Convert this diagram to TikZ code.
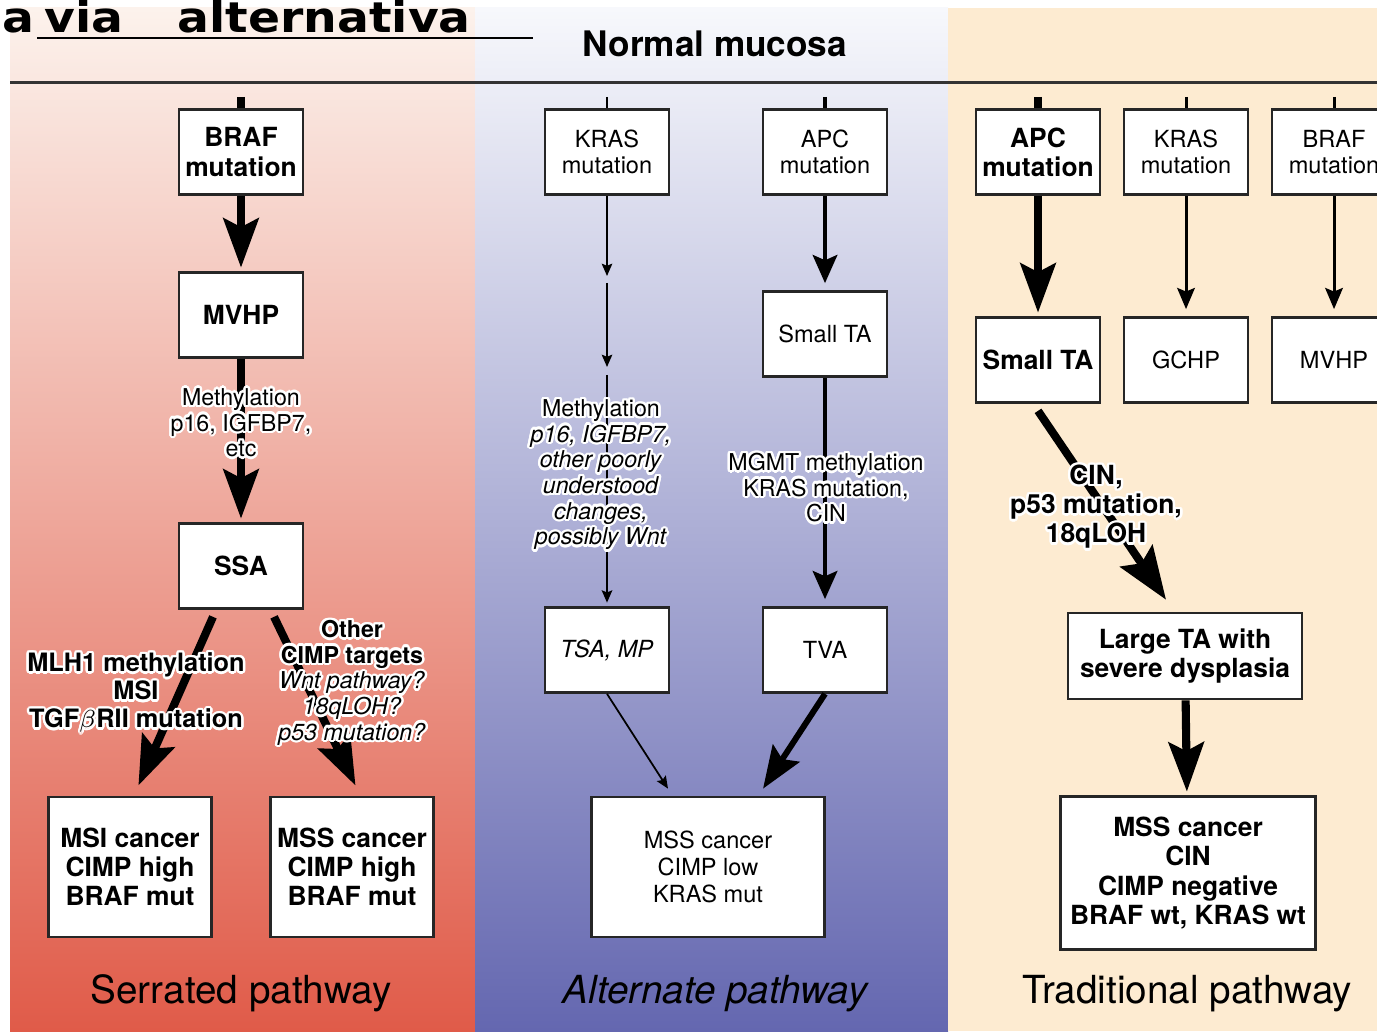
\documentclass[tikz,border=0pt]{standalone}
\usepackage{fontspec}
\usepackage{contour}
\setmainfont{TeX Gyre Heros}
\newfontfamily\titlefont{DejaVu Sans}[FakeStretch=1.12]
\usetikzlibrary{arrows.meta}
\contourlength{0.7pt}
\newcommand{\wht}[1]{\contour{white}{#1}}
\definecolor{serrtop}{HTML}{FCF2EC}
\definecolor{serrmid}{HTML}{F1B09F}
\definecolor{serrbot}{HTML}{E05B49}
\definecolor{alttop}{HTML}{F7F8FC}
\definecolor{altmid}{HTML}{B2B4DA}
\definecolor{altbot}{HTML}{6467B0}
\definecolor{tradbg}{HTML}{FDEBD1}
\begin{document}
\begin{tikzpicture}[x=0.01cm,y=-0.01cm,
  box/.style={draw=black!85,line width=0.75pt,fill=white,align=center,inner sep=1pt,
    minimum width=1.24cm,minimum height=0.85cm},
  boldtxt/.style={font=\fontsize{7.5}{8.3}\selectfont\bfseries},
  plaintxt/.style={font=\fontsize{6.7}{7.6}\selectfont},
  lbl/.style={align=center,inner sep=0pt,font=\fontsize{6.6}{7.3}\selectfont},
  boldlbl/.style={align=center,inner sep=0pt,font=\fontsize{7.2}{8}\selectfont\bfseries},
  pathname/.style={anchor=base,font=\fontsize{11}{13}\selectfont},
  headtxt/.style={inner sep=0pt,font=\titlefont\bfseries\fontsize{12}{14}\selectfont},
  bigarr/.style={line width=2.3pt,-{Stealth[length=14pt,width=10pt,inset=2.5pt]},shorten >=1pt},
  midarr/.style={line width=1.1pt,-{Stealth[length=8pt,width=7pt,inset=1.5pt]},shorten >=2pt},
  smallarr/.style={line width=0.85pt,-{Stealth[length=6pt,width=5pt,inset=1pt]},shorten >=2pt},
  thinarr/.style={line width=0.5pt,-{Stealth[length=3.5pt,width=3pt,inset=0.6pt]}}]
  \useasboundingbox (0,0) rectangle (1377,1031);
  \clip (0,0) rectangle (1377,1031);
  \shade[top color=serrtop,middle color=serrmid,bottom color=serrbot] (10,8) rectangle (475,1031);
  \shade[top color=alttop,middle color=altmid,bottom color=altbot] (475,8) rectangle (948,1031);
  \fill[tradbg] (948,8) rectangle (1377,1031);

  \node[headtxt,anchor=base west] (ta) at (2,33) {a};
  \node[headtxt,anchor=base west] (tb) at (44,33) {via};
  \node[headtxt,anchor=base west] (tc) at (177,33) {alternativa};
  \draw[line width=0.6pt] (37,38) -- (533,38);

  \node[anchor=base,font=\fontsize{10}{12}\selectfont\bfseries] (nm) at (715,57) {Normal mucosa};
  \draw[line width=0.85pt,black!80] (10,83) -- (1377,83);

  % serrated
  \node[box,boldtxt] (braf1) at (241,152) {BRAF\\mutation};
  \node[box,boldtxt] (mvhp1) at (241,315) {MVHP};
  \node[box,boldtxt] (ssa) at (241,566) {SSA};
  \node[box,boldtxt,minimum width=1.63cm,minimum height=1.40cm] (msi) at (130,867) {MSI cancer\\CIMP high\\BRAF mut};
  \node[box,boldtxt,minimum width=1.63cm,minimum height=1.40cm] (mss1) at (352,867) {MSS cancer\\CIMP high\\BRAF mut};
  \coordinate (s1) at (241,97);
  \draw[line width=2.3pt] (s1) -- (braf1.north);
  \draw[bigarr] (braf1) -- (mvhp1);
  \draw[bigarr] (mvhp1) -- (ssa);
  \draw[bigarr] ([xshift=-0.28cm,yshift=-0.07cm]ssa.south) -- ([xshift=0.07cm,yshift=0.07cm]msi.north);
  \draw[bigarr] ([xshift=0.33cm,yshift=-0.07cm]ssa.south) -- ([xshift=0.05cm,yshift=0.07cm]mss1.north);
  \node[lbl] (l1) at (241,424) {\wht{Methylation}\\\wht{p16, IGFBP7,}\\\wht{etc}};
  \node[boldlbl] (l2) at (136,694) {\wht{MLH1 methylation}\\\wht{MSI}\\\wht{TGF$\beta$RII mutation}};
  \node[lbl] (l3) at (352,684) {\wht{\textbf{Other}}\\\wht{\textbf{CIMP targets}}\\\wht{\textit{Wnt pathway?}}\\\wht{\textit{18qLOH?}}\\\wht{\textit{p53 mutation?}}};

  % alternate
  \node[box,plaintxt] (kras2) at (607,152) {KRAS\\mutation};
  \node[box,plaintxt] (apc2) at (825,152) {APC\\mutation};
  \node[box,plaintxt] (sta2) at (825,334) {Small TA};
  \node[box,plaintxt] (tsa) at (607,650) {\textit{TSA, MP}};
  \node[box,plaintxt] (tva) at (825,650) {TVA};
  \node[box,plaintxt,minimum width=2.33cm,minimum height=1.40cm] (mss2) at (708,867) {MSS cancer\\CIMP low\\KRAS mut};
  \coordinate (s2) at (607,97);
  \coordinate (s3) at (825,97);
  \coordinate (k1) at (607,276);
  \coordinate (k2) at (607,283);
  \coordinate (k3) at (607,367);
  \coordinate (k4) at (607,375);
  \draw[line width=0.5pt] (s2) -- (kras2.north);
  \draw[line width=1.1pt] (s3) -- (apc2.north);
  \draw[thinarr] (kras2.south) -- (k1);
  \draw[thinarr] (k2) -- (k3);
  \draw[thinarr,shorten >=1pt] (k4) -- (tsa.north);
  \draw[midarr] (apc2) -- (sta2);
  \draw[midarr] (sta2) -- (tva);
  \draw[thinarr] (tsa.south) -- ([xshift=-0.4cm,yshift=0.07cm]mss2.north);
  \draw[line width=1.7pt,-{Stealth[length=12pt,width=9pt,inset=2pt]}] (tva.south) -- ([xshift=0.55cm,yshift=0.07cm]mss2.north);
  \node[lbl] (l4) at (601,476) {\wht{Methylation}\\\wht{\textit{p16, IGFBP7,}}\\\wht{\textit{other poorly}}\\\wht{\textit{understood}}\\\wht{\textit{changes,}}\\\wht{\textit{possibly Wnt}}};
  \node[lbl] (l5) at (826,489) {\wht{MGMT methylation}\\\wht{KRAS mutation,}\\\wht{CIN}};

  % traditional
  \node[box,boldtxt] (apc3) at (1038,152) {APC\\mutation};
  \node[box,plaintxt] (kras3) at (1186,152) {KRAS\\mutation};
  \node[box,plaintxt] (braf3) at (1334,152) {BRAF\\mutation};
  \node[box,boldtxt] (sta3) at (1038,360) {Small TA};
  \node[box,plaintxt] (gchp) at (1186,360) {GCHP};
  \node[box,plaintxt] (mvhp3) at (1334,360) {MVHP};
  \node[box,boldtxt,minimum width=2.34cm,minimum height=0.86cm] (lta) at (1185,656) {Large TA with\\severe dysplasia};
  \node[box,boldtxt,minimum width=2.55cm,minimum height=1.53cm] (mss3) at (1188,873) {MSS cancer\\CIN\\CIMP negative\\BRAF wt, KRAS wt};
  \coordinate (s4) at (1038,97);
  \coordinate (s5) at (1186,97);
  \coordinate (s6) at (1334,97);
  \draw[line width=2.3pt] (s4) -- (apc3.north);
  \draw[line width=0.85pt] (s5) -- (kras3.north);
  \draw[line width=0.85pt] (s6) -- (braf3.north);
  \draw[bigarr] (apc3) -- (sta3);
  \draw[smallarr] (kras3) -- (gchp);
  \draw[smallarr] (braf3) -- (mvhp3);
  \draw[bigarr,-{Stealth[length=15pt,width=11pt,inset=2.5pt]}] ([yshift=-0.07cm]sta3.south) -- ([xshift=-0.17cm,yshift=0.09cm]lta.north);
  \draw[bigarr] (lta) -- (mss3);
  \node[boldlbl,font=\fontsize{7.5}{8.3}\selectfont\bfseries] (l6) at (1096,508) {\wht{CIN,}\\\wht{p53 mutation,}\\\wht{18qLOH}};

  \node[pathname] (p1) at (241,1003) {Serrated pathway};
  \node[pathname] (p2) at (715,1003) {\itshape Alternate pathway};
  \node[pathname] (p3) at (1187,1003) {Traditional pathway};
\end{tikzpicture}
\end{document}
